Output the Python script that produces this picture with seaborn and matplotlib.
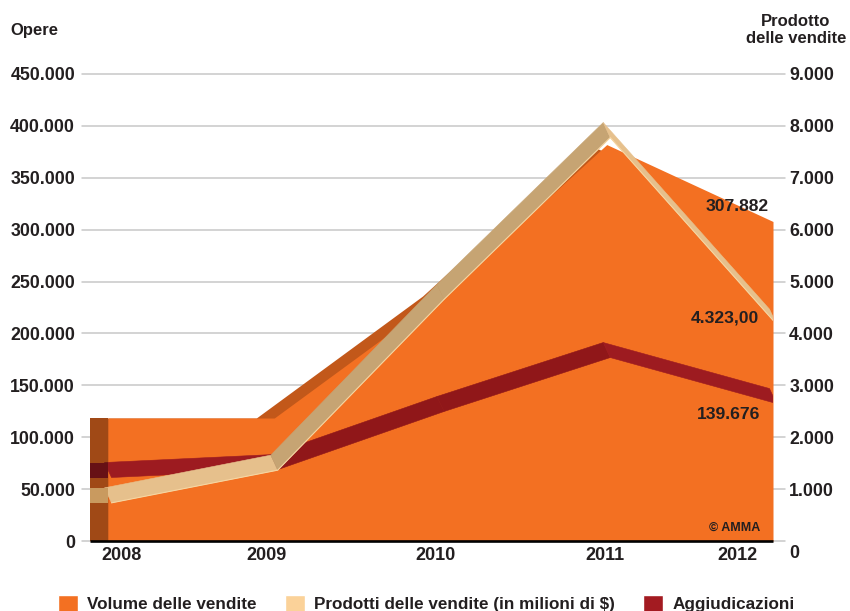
import numpy as np
import pandas as pd
import matplotlib
matplotlib.use("Agg")
import matplotlib.pyplot as plt
import matplotlib.transforms as mtransforms
from matplotlib.patches import Polygon, Rectangle, Patch
from matplotlib.ticker import FuncFormatter
import seaborn as sns

# ---- dati ----
anni = [2008, 2009, 2010, 2011, 2012]
etichette_anni = ["2008", "2009", "2010", "2011", "2012"]
volume_vendite = [118500, 118500, 236000, 382000, 307882]      # opere (asse sinistro)
prodotti_vendite = [880, 1510, 4800, 7920, 4323]                # milioni di $ (asse destro)
aggiudicazioni = [68400, 76000, 132000, 184000, 139676]         # opere (asse sinistro)
tick_opere = [0, 50000, 100000, 150000, 200000, 250000, 300000, 350000, 400000, 450000]
tick_prodotto = [0, 1000, 2000, 3000, 4000, 5000, 6000, 7000, 8000, 9000]

# ---- stile ----
ARANCIO = "#f37022"
ARANCIO_SCURO = "#c2581a"
TAN_CHIARO = "#e6c08c"
TAN_SCURO = "#c6a473"
TAN_LATO = "#c99a5f"
TAN_BORDO = "#f6d6a2"
ROSSO_CHIARO = "#9d1b20"
ROSSO_SCURO = "#901719"
TESTO = "#231f20"

sns.set_theme(style="white")
plt.rcParams["font.family"] = ["Liberation Sans", "DejaVu Sans"]
plt.rcParams["font.weight"] = "bold"
plt.rcParams["text.color"] = TESTO

DPI = 100
W, H = 850, 611
L, R, T, B = 82, 785, 74, 541          # riquadro del grafico in pixel
X_PRIMO, X_ULTIMO = 108, 773           # pixel del primo e dell'ultimo anno

fig = plt.figure(figsize=(W / DPI, H / DPI), dpi=DPI)
ax = fig.add_axes([L / W, 1 - B / H, (R - L) / W, (B - T) / H])
ax2 = ax.twinx()

ppy = (X_ULTIMO - X_PRIMO) / (anni[-1] - anni[0])       # pixel per anno
ax.set_xlim(anni[0] - (X_PRIMO - L) / ppy, anni[-1] + (R - X_ULTIMO) / ppy)
ax.set_ylim(0, tick_opere[-1])
ax2.set_ylim(0, tick_prodotto[-1])
px_sx = (B - T) / tick_opere[-1]       # pixel per unita' asse sinistro
px_dx = (B - T) / tick_prodotto[-1]    # pixel per unita' asse destro
PROF = 18 / ppy                        # profondita' dell'effetto 3D (in anni)
x_retro = anni[0] - PROF


def ritaglio(axis):
    return Rectangle((x_retro, -1e7), anni[-1] - x_retro, 2e7,
                     transform=axis.transData)


def nastro(axis, xs, ys, px_unit, chiaro, scuro, z):
    """Nastro in prospettiva: faccia anteriore in basso a destra, posteriore in alto a sinistra."""
    xs = np.asarray(xs, float)
    ys = np.asarray(ys, float)
    hx, hy = 3.5 / ppy, 7.5 / px_unit
    fx, fy = xs + hx, ys - hy
    bx, by = xs - hx, ys + hy
    for i in range(len(xs) - 1):
        pend = (ys[i + 1] - ys[i]) * px_unit / ((xs[i + 1] - xs[i]) * ppy)
        col = scuro if pend > 0.25 else chiaro
        p = Polygon([(fx[i], fy[i]), (fx[i + 1], fy[i + 1]),
                     (bx[i + 1], by[i + 1]), (bx[i], by[i])],
                    closed=True, fc=col, ec=col, lw=0.4, zorder=z)
        axis.add_patch(p)
        p.set_clip_path(ritaglio(axis))
    return hy


# griglia
ax.set_yticks(tick_opere)
ax.yaxis.grid(True, color="#c8c8c8", lw=1.1)
ax.set_axisbelow(True)
for gl in ax.get_ygridlines():
    gl.set_clip_on(False)

# area "Volume delle vendite" con bordo superiore in profondita'
ax.fill_between(np.array(anni) - PROF, volume_vendite, color=ARANCIO_SCURO, lw=0, zorder=1)
ax.fill_between(anni, volume_vendite, color=ARANCIO, lw=0, zorder=2)
ax.fill_between([x_retro, anni[0]], [volume_vendite[0]] * 2, color=ARANCIO, lw=0, zorder=2)

# nastro "Aggiudicazioni"
hy_r = nastro(ax, anni, aggiudicazioni, px_sx, ROSSO_CHIARO, ROSSO_SCURO, 3)
ax.add_patch(Rectangle((x_retro, aggiudicazioni[0] - hy_r), PROF, 2 * hy_r,
                       fc=ROSSO_CHIARO, lw=0, zorder=3.5))

# fianco scuro dell'area
ax.fill_between([x_retro, anni[0]], [volume_vendite[0]] * 2, color="black",
                alpha=0.34, lw=0, zorder=4)
# linea di base
ax.hlines(0, x_retro, anni[-1], color="black", lw=1.9, zorder=5, clip_on=False)

# nastro "Prodotti delle vendite" sull'asse destro
hy_t = nastro(ax2, anni, prodotti_vendite, px_dx, TAN_CHIARO, TAN_SCURO, 3)
ax2.add_patch(Rectangle((x_retro, prodotti_vendite[0] - hy_t), PROF, 2 * hy_t,
                        fc=TAN_LATO, lw=0, zorder=3.5))
df = pd.DataFrame({"anno": anni, "prodotti": prodotti_vendite})
sns.lineplot(data=df, x="anno", y="prodotti", ax=ax2, color=TAN_BORDO, lw=0.8,
             zorder=3.2, legend=False)
bordo = ax2.lines[-1]
bordo.set_transform(ax2.transData + mtransforms.ScaledTranslation(3.5 / DPI, -7.5 / DPI,
                                                                 fig.dpi_scale_trans))
bordo.set_clip_path(ritaglio(ax2))
ax2.set_xlabel("")
ax2.set_ylabel("")
ax2.set_ylim(0, tick_prodotto[-1])
ax.set_xlim(anni[0] - (X_PRIMO - L) / ppy, anni[-1] + (R - X_ULTIMO) / ppy)

# assi
fmt = FuncFormatter(lambda v, p: f"{v:,.0f}".replace(",", "."))
ax.yaxis.set_major_formatter(fmt)
ax2.set_yticks(tick_prodotto)
ax2.yaxis.set_major_formatter(fmt)
for a in (ax, ax2):
    for s in a.spines.values():
        s.set_visible(False)
ax.tick_params(axis="y", length=0, pad=5, labelsize=12.8, labelcolor=TESTO)
ax2.tick_params(axis="y", length=0, pad=3, labelsize=12.8, labelcolor=TESTO)
ax.set_xticks([])
ax2.grid(False)
for lab in ax.get_yticklabels() + ax2.get_yticklabels():
    lab.set_fontweight("bold")
zero_dx = ax2.get_yticklabels()[0]
zero_dx.set_transform(zero_dx.get_transform() +
                      mtransforms.ScaledTranslation(0, -10 / DPI, fig.dpi_scale_trans))

# etichette degli anni
spost_anni = [14, -8, -5, -2, -36]
for anno, lab, dx in zip(anni, etichette_anni, spost_anni):
    ax.annotate(lab, xy=(anno, 0), xytext=(dx, -15), textcoords="offset pixels",
                ha="center", va="center", fontsize=13, fontweight="bold",
                color=TESTO, annotation_clip=False)

# valori 2012
ax2.annotate("307.882", xy=(anni[-1], volume_vendite[-1]), xycoords=ax.transData,
             xytext=(-4, 15), textcoords="offset pixels", ha="right", va="center",
             fontsize=12.6, fontweight="bold", color=TESTO, zorder=10)
ax2.annotate("4.323,00", xy=(anni[-1], prodotti_vendite[-1]), xycoords=ax2.transData,
             xytext=(-14, -1), textcoords="offset pixels", ha="right", va="center",
             fontsize=12.6, fontweight="bold", color=TESTO, zorder=10)
ax2.annotate("139.676", xy=(anni[-1], aggiudicazioni[-1]), xycoords=ax.transData,
             xytext=(-13, -18), textcoords="offset pixels", ha="right", va="center",
             fontsize=12.6, fontweight="bold", color=TESTO, zorder=10)
ax2.text((760 - L) / (R - L), 13 / (B - T), "© AMMA", transform=ax.transAxes,
         ha="right", va="center", fontsize=9, fontweight="bold", color=TESTO, zorder=10)

# titoli degli assi
fig.text(10 / W, 1 - 31 / H, "Opere", ha="left", va="center", fontsize=12,
         fontweight="bold", color=TESTO)
fig.text(796 / W, 1 - 30 / H, "Prodotto\ndelle vendite", ha="center", va="center",
         multialignment="center", fontsize=12, fontweight="bold", color=TESTO,
         linespacing=1.1)

# legenda
maniglie = [Patch(fc=ARANCIO, label="Volume delle vendite"),
            Patch(fc="#fbd299", label="Prodotti delle vendite (in milioni di $)"),
            Patch(fc="#a31b21", label="Aggiudicazioni")]
leg = fig.legend(handles=maniglie, loc="lower left", bbox_to_anchor=(58 / W, -1 / H),
                 ncol=3, frameon=False, fontsize=12.3, handlelength=1.18,
                 handleheight=1.18, handletextpad=0.53, columnspacing=1.65,
                 borderpad=0, borderaxespad=0)
for t in leg.get_texts():
    t.set_fontweight("bold")
    t.set_color(TESTO)

fig.savefig("out.png", dpi=DPI)
